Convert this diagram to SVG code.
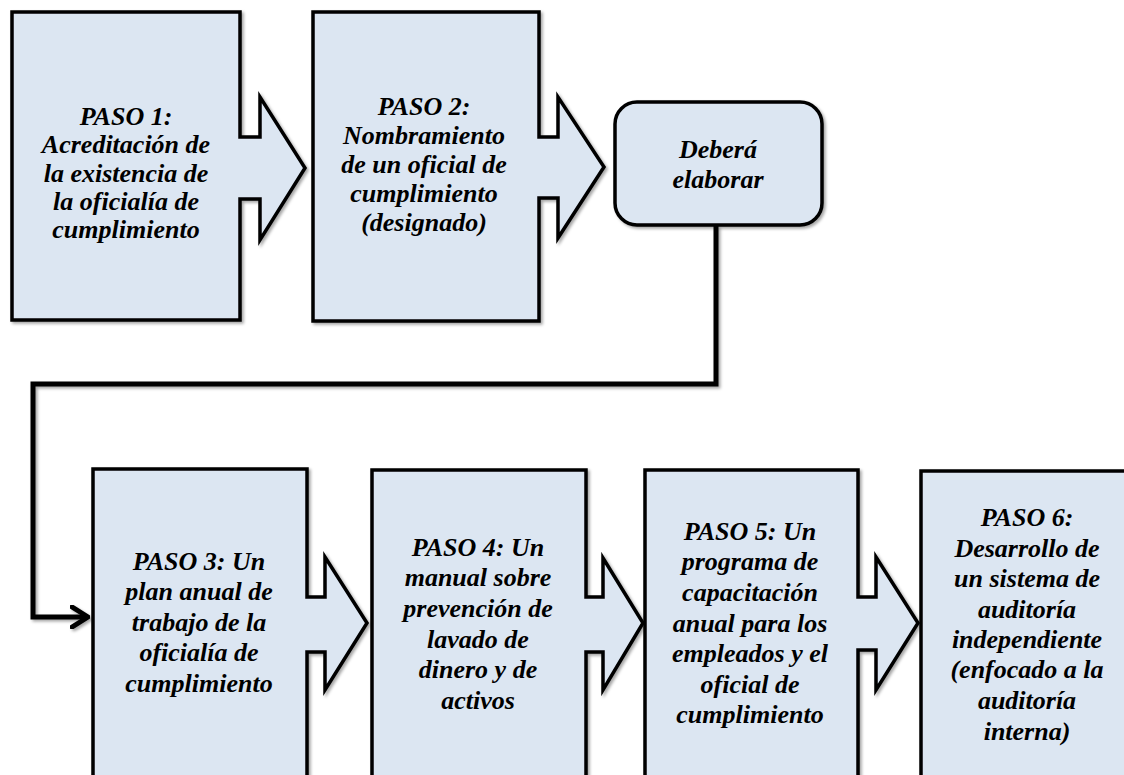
<svg xmlns="http://www.w3.org/2000/svg" width="1124" height="775" viewBox="0 0 1124 775">
  <defs>
    <filter id="sh" x="-10%" y="-10%" width="130%" height="130%">
      <feDropShadow dx="2" dy="2" stdDeviation="1.5" flood-color="#000" flood-opacity="0.35"/>
    </filter>
    <marker id="chev" viewBox="0 0 20 24" refX="18" refY="12" markerWidth="20" markerHeight="24" markerUnits="userSpaceOnUse" orient="auto">
      <path d="M2,2 L18,12 L2,22" fill="none" stroke="#000" stroke-width="5" stroke-linecap="round" stroke-linejoin="round"/>
    </marker>
  </defs>
  <style>
    .shape { fill: #DCE6F2; stroke: #000; stroke-width: 3.5; stroke-linejoin: miter; filter: url(#sh); }
    .lbl { font-family: "Liberation Serif", "Times New Roman", serif; font-weight: bold; font-style: italic; font-size: 26px; fill: #000; text-anchor: middle; }
    .conn { fill: none; stroke: #000; stroke-width: 5; stroke-linejoin: miter; filter: url(#sh); }
  </style>
  <rect width="1124" height="775" fill="#fff"/>

  <g id="connectors">
    <path class="conn" d="M716,226 V384 H33 V617 H88" marker-end="url(#chev)"/>
  </g>

  <g id="paso1">
    <path class="shape" d="M12,12 H240 V137 H260 V97 L305,168 L260,240 V199 H240 V320 H12 Z"/>
    <text class="lbl" x="126" y="125">PASO 1:</text>
    <text class="lbl" x="126" y="153">Acreditación de</text>
    <text class="lbl" x="126" y="182">la existencia de</text>
    <text class="lbl" x="126" y="210">la oficialía de</text>
    <text class="lbl" x="126" y="238">cumplimiento</text>
  </g>

  <g id="paso2">
    <path class="shape" d="M313,12 H539 V137 H558 V97 L604,167 L558,238 V198 H539 V321 H313 Z"/>
    <text class="lbl" x="424" y="115">PASO 2:</text>
    <text class="lbl" x="424" y="144">Nombramiento</text>
    <text class="lbl" x="424" y="173">de un oficial de</text>
    <text class="lbl" x="424" y="202">cumplimiento</text>
    <text class="lbl" x="424" y="231">(designado)</text>
  </g>

  <g id="debera">
    <rect class="shape" x="615" y="102" width="207" height="123" rx="22" ry="22"/>
    <text class="lbl" x="718" y="158">Deberá</text>
    <text class="lbl" x="718" y="188">elaborar</text>
  </g>

  <g id="paso3">
    <path class="shape" d="M93,469 H307 V597 H325 V557 L367,623 L325,690 V652 H307 V790 H93 Z"/>
    <text class="lbl" x="199" y="570">PASO 3: Un</text>
    <text class="lbl" x="199" y="600">plan anual de</text>
    <text class="lbl" x="199" y="631">trabajo de la</text>
    <text class="lbl" x="199" y="661">oficialía de</text>
    <text class="lbl" x="199" y="692">cumplimiento</text>
  </g>

  <g id="paso4">
    <path class="shape" d="M372,470 H586 V597 H603 V558 L643,623 L603,690 V652 H586 V790 H372 Z"/>
    <text class="lbl" x="478" y="556">PASO 4: Un</text>
    <text class="lbl" x="478" y="586">manual sobre</text>
    <text class="lbl" x="478" y="617">prevención de</text>
    <text class="lbl" x="478" y="648">lavado de</text>
    <text class="lbl" x="478" y="678">dinero y de</text>
    <text class="lbl" x="478" y="709">activos</text>
  </g>

  <g id="paso5">
    <path class="shape" d="M645,470 H858 V597 H876 V557 L918,623 L876,690 V650 H858 V790 H645 Z"/>
    <text class="lbl" x="750" y="540">PASO 5: Un</text>
    <text class="lbl" x="750" y="570">programa de</text>
    <text class="lbl" x="750" y="601">capacitación</text>
    <text class="lbl" x="750" y="632">anual para los</text>
    <text class="lbl" x="750" y="662">empleados y el</text>
    <text class="lbl" x="750" y="693">oficial de</text>
    <text class="lbl" x="750" y="723">cumplimiento</text>
  </g>

  <g id="paso6">
    <path class="shape" d="M921,471 H1140 V790 H921 Z"/>
    <text class="lbl" x="1027" y="526">PASO 6:</text>
    <text class="lbl" x="1027" y="557">Desarrollo de</text>
    <text class="lbl" x="1027" y="587">un sistema de</text>
    <text class="lbl" x="1027" y="618">auditoría</text>
    <text class="lbl" x="1027" y="648">independiente</text>
    <text class="lbl" x="1027" y="678">(enfocado a la</text>
    <text class="lbl" x="1027" y="709">auditoría</text>
    <text class="lbl" x="1027" y="740">interna)</text>
  </g>
</svg>
